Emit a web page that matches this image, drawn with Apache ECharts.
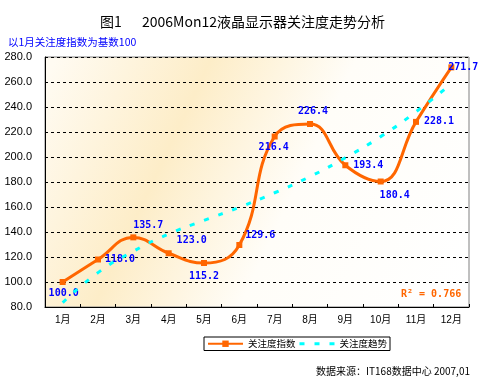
<!DOCTYPE html>
<html>
<head>
<meta charset="utf-8">
<script src="https://cdn.jsdelivr.net/npm/echarts@6/dist/echarts.min.js"></script>
<style>
html,body{margin:0;padding:0;background:#fff;}
#c{width:485px;height:389px;}
</style>
</head>
<body>
<div id="c"></div>
<script>
// ---- data ----
const months = ['1月','2月','3月','4月','5月','6月','7月','8月','9月','10月','11月','12月'];
const indexValues = [100.0, 118.0, 135.7, 123.0, 115.2, 129.6, 216.4, 226.4, 193.4, 180.4, 228.1, 271.7];
const trendValues = [83.5, 107.5, 124.6, 138.4, 149.3, 159.8, 171.4, 184.3, 199.4, 216.3, 236.2, 258.6];
const seriesNames = ['关注度指数', '关注度趋势'];
const titleText = '图1\u3000  2006Mon12液晶显示器关注度走势分析';
const subtitleText = '以1月关注度指数为基数100';
const sourceText = '数据来源：IT168数据中心 2007,01';
const r2Text = 'R² = 0.766';

// label offsets (style only)
const labelOffsets = [[1,11],[22,0],[15,-12],[23,-13],[0,13],[21,-10],[-1,11],[3,-13],[23,0],[14,14],[23,0],[12,0]];

const chart = echarts.init(document.getElementById('c'), null, {renderer:'canvas'});

const labelFont = {color:'#0000FF', fontFamily:'DejaVu Sans Mono', fontWeight:'bold', fontSize:10};

const option = {
  animation:false,
  backgroundColor:'#fff',
  title:{
    text:titleText, left:'center', top:15, padding:0,
    textStyle:{fontFamily:'Noto Sans CJK SC', fontSize:14, fontWeight:'normal', color:'#000'}
  },
  grid:{
    left:45, right:16, top:57, bottom:82, show:true,
    borderColor:'#808080', borderWidth:1,
    backgroundColor:{type:'linear', x:0, y:0.1, x2:1, y2:0.9, colorStops:[
      {offset:0, color:'#FFFBF2'},
      {offset:0.3, color:'#FDEDC8'},
      {offset:0.58, color:'#FFFDF8'},
      {offset:1, color:'#FFFFFF'}
    ]}
  },
  legend:{
    left:204, top:337, orient:'horizontal',
    borderColor:'#000', borderWidth:1, padding:[2,3], itemGap:4,
    itemWidth:35, itemHeight:8,
    textStyle:{fontFamily:'Noto Sans CJK SC', fontSize:9.5, color:'#000'},
    data:[
      {name:seriesNames[0]},
      {name:seriesNames[1], icon:'path://M0 0H5V3H0Z M15 0H20V3H15Z M30 0H35V3H30Z', itemStyle:{color:'#00FFFF'}}
    ]
  },
  xAxis:{
    type:'category', data:months, boundaryGap:true,
    axisLine:{lineStyle:{color:'#000', width:1}},
    axisTick:{show:true, inside:true, length:3, lineStyle:{color:'#000'}},
    axisLabel:{margin:8, fontFamily:'Liberation Sans, Noto Sans CJK SC', fontSize:10, color:'#000'},
    splitLine:{show:false}
  },
  yAxis:{
    type:'value', min:80, max:280, interval:20,
    axisLine:{show:true, lineStyle:{color:'#000', width:1}},
    axisTick:{show:false},
    axisLabel:{margin:13, fontFamily:'Liberation Sans', fontSize:11, color:'#000',
      formatter:v=>v.toFixed(1)},
    splitLine:{show:true, lineStyle:{color:'#000', type:[3,3], width:1}}
  },
  series:[
    {
      name:seriesNames[0], type:'line', smooth:0.45,
      data:indexValues.map((v,i)=>({value:v, label:{offset:labelOffsets[i]}})),
      symbol:'rect', symbolSize:6,
      itemStyle:{color:'#FF6600'},
      lineStyle:{color:'#FF6600', width:3},
      label:Object.assign({show:true, position:'inside', formatter:p=>p.value.toFixed(1)}, labelFont),
      z:3
    },
    {
      name:seriesNames[1], type:'line', smooth:true,
      data:trendValues, symbol:'none', showSymbol:false,
      itemStyle:{color:'#00FFFF'},
      lineStyle:{color:'#00FFFF', width:3, type:[5,10]},
      z:4
    }
  ],
  graphic:[
    {type:'text', left:8, top:37, style:{text:subtitleText, fill:'#0000FF', font:'10.5px "Noto Sans CJK SC"'}},
    {type:'text', left:401, top:289, style:{text:r2Text, fill:'#FF6600', font:'bold 10px "DejaVu Sans Mono"'}, z:10},
    {type:'text', right:15, top:366, style:{text:sourceText, fill:'#000', font:'10px "Noto Sans CJK SC"'}}
  ]
};
chart.setOption(option);
</script>
</body>
</html>
